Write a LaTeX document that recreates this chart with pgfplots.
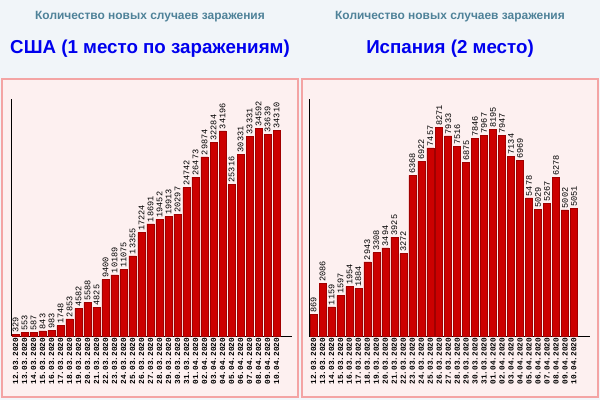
\documentclass[border=0pt]{standalone}
\usepackage{fontspec}
\setmainfont{Liberation Sans}
\newfontfamily\mono{Liberation Mono}
\usepackage{pgfplots}
\usepackage{pgfplotstable}
\pgfplotsset{compat=1.18}
\definecolor{bg}{HTML}{F1F5F9}
\definecolor{panel}{HTML}{FDF0F0}
\definecolor{border}{HTML}{F4A4A4}
\definecolor{barc}{HTML}{CC0000}
\definecolor{bardark}{HTML}{A00000}
\definecolor{sub}{HTML}{4F8299}
\definecolor{ttl}{HTML}{0000EE}

\pgfplotstableread{
i usa esp
0 329 869
1 553 2086
2 587 1159
3 843 1597
4 983 1954
5 1748 1884
6 2853 2943
7 4582 3308
8 5588 3494
9 4825 3925
10 9400 3272
11 10189 6368
12 11075 6922
13 13355 7457
14 17224 8271
15 18691 7933
16 19452 7516
17 19913 6875
18 20297 7846
19 24742 7967
20 26473 8195
21 29874 7947
22 32284 7134
23 34196 6969
24 25316 5478
25 30331 5029
26 33331 5267
27 34592 6278
28 33639 5002
29 34310 5051
}\data

\pgfplotsset{panelaxis/.style={
  scale only axis, anchor=south west,
  height=237bp,
  axis x line*=bottom, axis y line*=left,
  axis line style={black, line width=1bp},
  ymin=0, ytick=\empty,
  xtick=data,
  xticklabels={12.03.2020,13.03.2020,14.03.2020,15.03.2020,16.03.2020,17.03.2020,18.03.2020,19.03.2020,20.03.2020,21.03.2020,22.03.2020,23.03.2020,24.03.2020,25.03.2020,26.03.2020,27.03.2020,28.03.2020,29.03.2020,30.03.2020,31.03.2020,01.04.2020,02.04.2020,03.04.2020,04.04.2020,05.04.2020,06.04.2020,07.04.2020,08.04.2020,09.04.2020,10.04.2020},
  xticklabel style={rotate=90, anchor=east, font=\mono\bfseries\fontsize{7.8}{8}\selectfont, inner sep=1.5pt},
  major tick length=0pt,
  ybar, bar width=0.78,
  nodes near coords,
  /pgf/number format/1000 sep={},
  /pgf/number format/assume math mode=true,
  nodes near coords style={rotate=90, anchor=west, font=\mono\fontsize{8.6}{9}\selectfont, inner sep=1.5pt, black},
  clip=false,
}}

\begin{document}
\begin{tikzpicture}
\useasboundingbox (0,0) rectangle (600bp,400bp);
\fill[bg] (0,0) rectangle (600bp,400bp);
\filldraw[fill=panel, draw=border, line width=2bp] (2bp,2.5bp) rectangle (298bp,321bp);
\filldraw[fill=panel, draw=border, line width=2bp] (302bp,2.5bp) rectangle (598bp,321bp);

\node[font=\bfseries\fontsize{12}{14}\selectfont, text=sub] at (150bp,383bp) {Количество новых случаев заражения};
\node[font=\bfseries\fontsize{18.8}{22}\selectfont, text=ttl] at (150bp,351bp) {США (1 место по заражениям)};
\node[font=\bfseries\fontsize{12}{14}\selectfont, text=sub] at (450bp,383bp) {Количество новых случаев заражения};
\node[font=\bfseries\fontsize{18.8}{22}\selectfont, text=ttl] at (450bp,351bp) {Испания (2 место)};

\begin{axis}[panelaxis, at={(11.7bp,64bp)}, width=280.3bp, xmin=-0.42, xmax=30.72, ymax=39500]
\addplot[fill=barc, draw=bardark, line width=0.5bp] table[x=i, y=usa] {\data};
\end{axis}

\begin{axis}[panelaxis, at={(309.3bp,64bp)}, width=280.7bp, xmin=-0.47, xmax=30.79, ymax=9400]
\addplot[fill=barc, draw=bardark, line width=0.5bp] table[x=i, y=esp] {\data};
\end{axis}
\end{tikzpicture}
\end{document}
